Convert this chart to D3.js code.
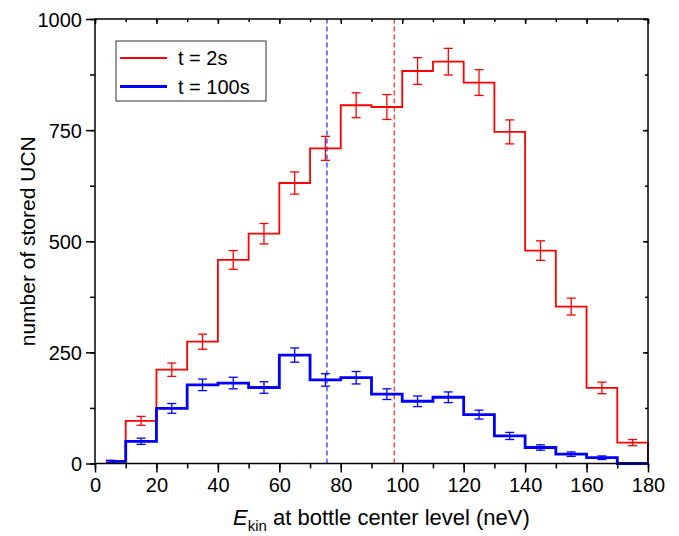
<!DOCTYPE html>
<html>
<head>
<meta charset="utf-8">
<script src="https://cdn.jsdelivr.net/npm/d3@7"></script>
<style>
  body { margin: 0; background: #fff; }
  text { font-family: "Liberation Sans", Arial, sans-serif; fill: #000; }
</style>
</head>
<body>
<script>
// histogram bins (neV), lower edges, 10 neV wide
const binLo = [0, 10, 20, 30, 40, 50, 60, 70, 80, 90, 100, 110, 120, 130, 140, 150, 160, 170];
// stored UCN counts, t = 2s
const red = [5, 96, 211, 274, 458, 517, 631, 709, 806, 802, 883, 904, 857, 746, 479, 353, 170, 47];
const redErr = [2, 10, 15, 17, 21, 23, 25, 27, 28, 28, 30, 30, 29, 27, 22, 19, 13, 7];
// stored UCN counts, t = 100s
const blue = [5, 50, 124, 177, 181, 171, 244, 188, 193, 156, 140, 149, 110, 62, 36, 21, 13, 0];
const blueErr = [2, 7, 11, 13, 13, 13, 16, 14, 14, 12, 12, 12, 10, 8, 6, 5, 4, 0];
// mean energies (dashed lines)
const meanBlue = 75.5, meanRed = 97.4;
const xTicks = [0, 20, 40, 60, 80, 100, 120, 140, 160, 180];
const yTicks = [0, 250, 500, 750, 1000];
const legendNames = ["t = 2s", "t = 100s"];

let margin = {top: 19, left: 95, bottom: 72.5, right: 31};
let width = 679 - margin.left - margin.right,
    height = 536 - margin.top - margin.bottom;

let svg = d3.select("body").append("svg")
    .attr("width", 679)
    .attr("height", 536)
  .append("g")
    .attr("transform", "translate(" + margin.left + "," + margin.top + ")");

let x = d3.scaleLinear().domain([0, 180]).range([0, width]);
let y = d3.scaleLinear().domain([0, 1000]).range([height, 0]);

// minor ticks (no labels)
const xMinor = d3.range(0, 181, 10), yMinor = d3.range(0, 1001, 125);
function axisStyle(g) {
  g.select(".domain").remove();
  g.selectAll("line").attr("stroke", "#000").attr("stroke-width", 1.5);
  g.selectAll("text").style("font-size", "20px").style("font-family", "Liberation Sans, Arial, sans-serif");
}
svg.append("g").attr("transform", "translate(0," + height + ")")
  .call(d3.axisBottom(x).tickValues(xMinor).tickSize(5).tickFormat("")).call(axisStyle);
svg.append("g").attr("transform", "translate(0," + height + ")")
  .call(d3.axisBottom(x).tickValues(xTicks).tickSize(9).tickPadding(5).tickFormat(d3.format("d"))).call(axisStyle);
svg.append("g")
  .call(d3.axisLeft(y).tickValues(yMinor).tickSize(5).tickFormat("")).call(axisStyle);
svg.append("g")
  .call(d3.axisLeft(y).tickValues(yTicks).tickSize(9).tickPadding(4).tickFormat(d3.format("d"))).call(axisStyle)
  .selectAll("text").attr("dy", "0.36em");
// mirrored inner ticks on top and right
svg.append("g")
  .call(d3.axisBottom(x).tickValues(xMinor).tickSize(3).tickFormat("")).call(axisStyle);
svg.append("g")
  .call(d3.axisBottom(x).tickValues(xTicks).tickSize(5).tickFormat("")).call(axisStyle);
svg.append("g").attr("transform", "translate(" + width + ",0)")
  .call(d3.axisLeft(y).tickValues(yMinor).tickSize(3).tickFormat("")).call(axisStyle);
svg.append("g").attr("transform", "translate(" + width + ",0)")
  .call(d3.axisLeft(y).tickValues(yTicks).tickSize(5).tickFormat("")).call(axisStyle);

// dashed mean lines
[[meanBlue, "#2222ff"], [meanRed, "#ff2222"]].forEach(function(m) {
  svg.append("line")
    .attr("x1", x(m[0])).attr("x2", x(m[0]))
    .attr("y1", y(0)).attr("y2", y(1000))
    .attr("stroke", m[1]).attr("stroke-width", 1.2)
    .attr("stroke-dasharray", "5,3");
});

function stepPoints(vals, dropToZero) {
  let pts = vals.map(function(v, i) { return [i === 0 ? binLo[0] + 5 : binLo[i], v]; });
  pts.push([180, vals[vals.length - 1]]);
  if (dropToZero) pts.push([180, 0]);
  return pts;
}
let line = d3.line()
  .x(function(d) { return x(d[0]); })
  .y(function(d) { return y(d[1]); })
  .curve(d3.curveStepAfter);

function drawSeries(vals, errs, color, lw, drop) {
  svg.append("path")
    .datum(stepPoints(vals, drop))
    .attr("d", line)
    .attr("fill", "none")
    .attr("stroke", color)
    .attr("stroke-width", lw);
  let eb = svg.append("g").selectAll("g")
    .data(vals.map(function(v, i) { return {c: binLo[i] + 5, v: v, e: errs[i]}; })
      .filter(function(d) { return d.e > 0; }))
    .enter().append("g")
    .attr("stroke", color).attr("stroke-width", 1.3);
  eb.append("line")
    .attr("x1", function(d) { return x(d.c); }).attr("x2", function(d) { return x(d.c); })
    .attr("y1", function(d) { return y(d.v - d.e); }).attr("y2", function(d) { return y(d.v + d.e); });
  [-1, 1].forEach(function(s) {
    eb.append("line")
      .attr("x1", function(d) { return x(d.c) - 4.5; }).attr("x2", function(d) { return x(d.c) + 4.5; })
      .attr("y1", function(d) { return y(d.v + s * d.e); }).attr("y2", function(d) { return y(d.v + s * d.e); });
  });
}
drawSeries(red, redErr, "#ff0000", 1.8, true);
drawSeries(blue, blueErr, "#0000ff", 2.8, false);

// frame
svg.append("rect")
  .attr("width", width).attr("height", height)
  .attr("fill", "none").attr("stroke", "#000").attr("stroke-width", 1.5);

// legend
let legend = svg.append("g").attr("transform", "translate(" + (116 - margin.left) + "," + (41 - margin.top) + ")");
legend.append("rect").attr("width", 150).attr("height", 60)
  .attr("fill", "#fff").attr("stroke", "#333").attr("stroke-width", 1);
[["#ff0000", 1.8], ["#0000ff", 2.8]].forEach(function(c, i) {
  legend.append("line")
    .attr("x1", 4).attr("x2", 51)
    .attr("y1", 17 + i * 28.5).attr("y2", 17 + i * 28.5)
    .attr("stroke", c[0]).attr("stroke-width", c[1]);
  legend.append("text")
    .attr("x", 62).attr("y", 24 + i * 28.5)
    .style("font-size", "20px")
    .text(legendNames[i]);
});

// axis titles
svg.append("text")
  .attr("transform", "translate(" + (35 - margin.left) + "," + (height / 2) + ") rotate(-90)")
  .attr("text-anchor", "middle")
  .style("font-size", "21px")
  .text("number of stored UCN");

let xt = svg.append("text")
  .attr("x", 233 - margin.left).attr("y", 525 - margin.top)
  .style("font-size", "22px");
xt.append("tspan").style("font-style", "italic").text("E");
xt.append("tspan").attr("dy", 6).style("font-size", "15px").text("kin");
xt.append("tspan").attr("dy", -6).text(" at bottle center level (neV)");
</script>
</body>
</html>
